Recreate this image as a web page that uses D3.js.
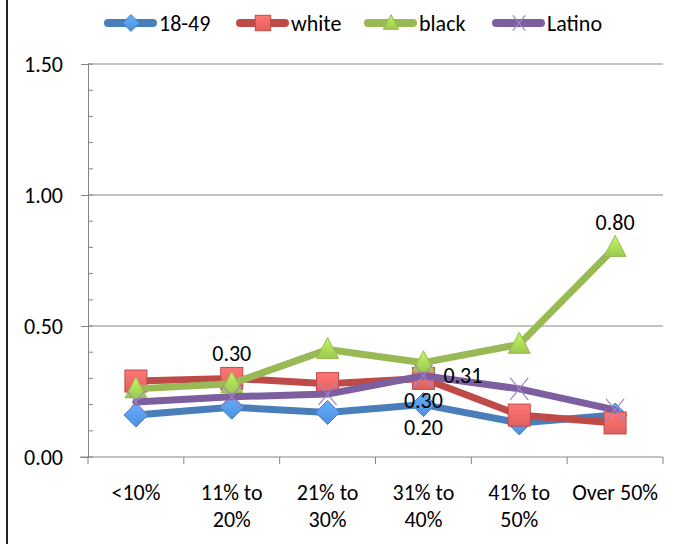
<!DOCTYPE html>
<html><head><meta charset="utf-8">
<script src="https://cdn.jsdelivr.net/npm/d3@7"></script>
<style>body{margin:0;background:#fff}svg{display:block;font-family:Carlito,Lato,"Open Sans",sans-serif}</style>
</head><body><svg id="c" width="691" height="544"></svg>
<script>
const categories = ["<10%", "11% to|20%", "21% to|30%", "31% to|40%", "41% to|50%", "Over 50%"];
const seriesNames = ["18-49", "white", "black", "Latino"];
const vals1849 = [0.16, 0.19, 0.17, 0.20, 0.13, 0.16];
const valsWhite = [0.29, 0.30, 0.28, 0.30, 0.16, 0.13];
const valsBlack = [0.26, 0.28, 0.41, 0.36, 0.43, 0.80];
const valsLatino = [0.21, 0.23, 0.24, 0.31, 0.26, 0.18];
const yTicks = [0, 0.5, 1.0, 1.5];
const labels = [
  {s: 1, i: 1, pos: "above"},
  {s: 3, i: 3, pos: "right"},
  {s: 1, i: 3, pos: "below"},
  {s: 0, i: 3, pos: "below"},
  {s: 2, i: 5, pos: "above"}
];

const colors = ["#4a7ebb", "#be4b48", "#98b954", "#7d5fa0"];
const fills = ["#4f8fe0", "#e0605e", "#9dc84f", "#a98fd0"];
const allVals = [vals1849, valsWhite, valsBlack, valsLatino];
const FS = 22;
const svg = d3.select("#c");

// left frame edge
svg.append("line").attr("x1", 7).attr("x2", 7).attr("y1", 0).attr("y2", 544).attr("stroke", "#222").attr("stroke-width", 2);

const x = d3.scaleBand().domain(categories).range([88, 663]);
const y = d3.scaleLinear().domain([0, 1.5]).range([457, 64]);

// gridlines
svg.append("g").selectAll("line").data(yTicks.filter(d => d > 0)).join("line")
  .attr("x1", 88).attr("x2", 663).attr("y1", d => y(d)).attr("y2", d => y(d))
  .attr("stroke", "#868686").attr("stroke-width", 1);

// y axis
const yAxis = svg.append("g").attr("transform", "translate(88,0)")
  .call(d3.axisLeft(y).tickValues(yTicks).tickFormat(d3.format(".2f")).tickSize(7).tickPadding(18));
yAxis.select(".domain").attr("stroke", "#868686");
yAxis.selectAll(".tick line").attr("stroke", "#868686");
yAxis.selectAll("text").attr("font-size", FS).attr("fill", "#000").attr("font-family", "Carlito, Lato, 'Open Sans', sans-serif");
// minor ticks
svg.append("g").selectAll("line").data(d3.range(0, 1.5001, 0.1)).join("line")
  .attr("x1", 88).attr("x2", 93).attr("y1", d => y(d)).attr("y2", d => y(d))
  .attr("stroke", "#868686");

// x axis
const xAxis = svg.append("g").attr("transform", "translate(0,457)");
xAxis.append("line").attr("x1", 80).attr("x2", 663).attr("stroke", "#868686");
const edges = categories.map(c => x(c)).concat([x.range()[1]]);
xAxis.selectAll("line.t").data(edges).join("line").attr("class", "t")
  .attr("x1", d => d).attr("x2", d => d).attr("y1", 0).attr("y2", 7).attr("stroke", "#868686");
categories.forEach(c => {
  const parts = c.split("|");
  const t = xAxis.append("text").attr("text-anchor", "middle").attr("font-size", FS).attr("fill", "#000");
  parts.forEach((p, k) => t.append("tspan").attr("x", x(c) + x.bandwidth() / 2).attr("y", 43 + k * 27).text(p));
});

const cx = i => x(categories[i]) + x.bandwidth() / 2;

const defs = svg.append("defs");
fills.forEach((f, k) => {
  const g = defs.append("linearGradient").attr("id", "g" + k).attr("x1", 0).attr("y1", 0).attr("x2", 0).attr("y2", 1);
  g.append("stop").attr("offset", "0%").attr("stop-color", d3.color(f).brighter(0.6));
  g.append("stop").attr("offset", "100%").attr("stop-color", f);
});

function marker(g, s, px, py, scale) {
  const sc = scale || 1;
  if (s === 0) {
    g.append("path").attr("d", `M${px},${py - 12 * sc}L${px + 12 * sc},${py}L${px},${py + 12 * sc}L${px - 12 * sc},${py}Z`)
      .attr("fill", "url(#g0)").attr("stroke", "#4a7ebb").attr("stroke-width", 1);
  } else if (s === 1) {
    g.append("rect").attr("x", px - 11 * sc).attr("y", py - 11 * sc).attr("width", 22 * sc).attr("height", 22 * sc)
      .attr("fill", "url(#g1)").attr("stroke", "#be4b48").attr("stroke-width", 1);
  } else if (s === 2) {
    g.append("path").attr("d", `M${px},${py - 12 * sc}L${px + 11 * sc},${py + 9 * sc}L${px - 11 * sc},${py + 9 * sc}Z`)
      .attr("fill", "url(#g2)").attr("stroke", "#98b954").attr("stroke-width", 1);
  } else {
    g.append("path").attr("d", `M${px - 9 * sc},${py - 11 * sc}L${px + 9 * sc},${py + 11 * sc}M${px + 9 * sc},${py - 11 * sc}L${px - 9 * sc},${py + 11 * sc}`)
      .attr("stroke", "#9b84c4").attr("stroke-width", 1.2).attr("fill", "none");
  }
}

const line = d3.line().x((d, i) => cx(i)).y(d => y(d));
allVals.forEach((vals, s) => {
  const g = svg.append("g");
  g.append("path").attr("d", line(vals)).attr("fill", "none").attr("stroke", colors[s])
    .attr("stroke-width", 7).attr("stroke-linejoin", "round").attr("stroke-linecap", "round");
  vals.forEach((v, i) => marker(g, s, cx(i), y(v)));
});

// data labels
labels.forEach(l => {
  const v = allVals[l.s][l.i];
  let px = cx(l.i), py = y(v), anchor = "middle";
  if (l.pos === "above") py -= 17;
  else if (l.pos === "below") py += 30;
  else { px += 20; py += 7; anchor = "start"; }
  svg.append("text").attr("x", px).attr("y", py).attr("text-anchor", anchor)
    .attr("font-size", FS).attr("fill", "#000").text(d3.format(".2f")(v));
});

// legend
const legX = [104, 236, 364, 492];
seriesNames.forEach((n, s) => {
  const g = svg.append("g");
  g.append("line").attr("x1", legX[s] + 4).attr("x2", legX[s] + 49).attr("y1", 23).attr("y2", 23)
    .attr("stroke", colors[s]).attr("stroke-width", 8).attr("stroke-linecap", "round");
  marker(g, s, legX[s] + 27, 23, 0.7);
  g.append("text").attr("x", legX[s] + 55).attr("y", 31).attr("font-size", FS).attr("fill", "#000").text(n);
});
</script></body></html>
